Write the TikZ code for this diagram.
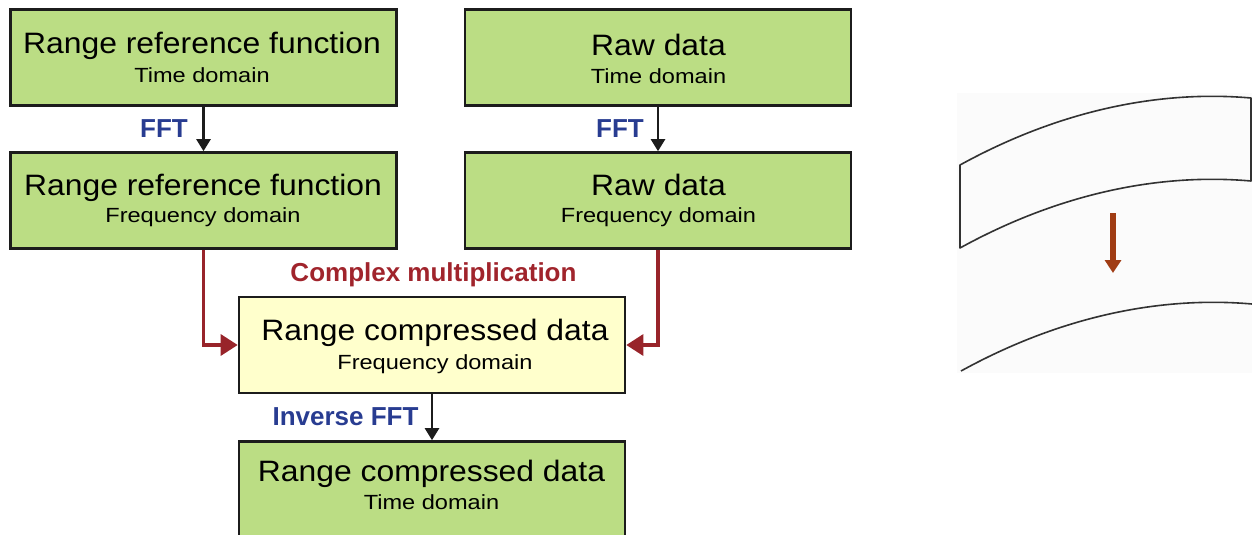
\documentclass[tikz,border=0pt]{standalone}
\usepackage{fontspec}
\usetikzlibrary{arrows.meta}
\newfontfamily\mainfnt[FakeStretch=1.08]{Liberation Sans}
\newfontfamily\subfnt[FakeStretch=1.15]{Liberation Sans}
\newfontfamily\lblfnt{Liberation Sans}
\definecolor{boxgreen}{RGB}{187,221,132}
\definecolor{boxyellow}{RGB}{255,255,204}
\definecolor{bordc}{RGB}{28,28,28}
\definecolor{lblblue}{RGB}{40,60,145}
\definecolor{lblred}{RGB}{160,36,44}
\definecolor{arrred}{RGB}{152,36,42}
\definecolor{arrbrown}{RGB}{160,60,20}
\definecolor{curvec}{RGB}{50,50,50}
\definecolor{panelbg}{RGB}{251,251,251}
\tikzset{
  flowbox/.style={draw=bordc, line width=2.6pt, minimum width=386pt, minimum height=96pt, inner sep=0pt, fill=boxgreen},
  maintxt/.style={anchor=base, inner sep=0pt, font=\mainfnt\fontsize{29.5}{32}\selectfont, text=black},
  subtxt/.style={anchor=base, inner sep=0pt, font=\subfnt\fontsize{20.5}{24}\selectfont, text=black},
  lbltxt/.style={anchor=base, inner sep=0pt, font=\lblfnt\bfseries\fontsize{26}{30}\selectfont},
  blkarr/.style={draw=bordc, line width=2.4pt, -{Triangle[length=12pt,width=14pt]}},
  redarr/.style={draw=arrred, line width=3.2pt, -{Triangle[length=17pt,width=21pt]}},
  brownarr/.style={draw=arrbrown, line width=6pt, -{Triangle[length=13pt,width=16pt]}},
  curveline/.style={draw=curvec, line width=1.6pt, line join=round}
}
\begin{document}
\begin{tikzpicture}[x=1pt,y=-1pt]
\useasboundingbox (0,0) rectangle (1252,535);
% boxes
\node[flowbox] (A) at (203.5,57.5) {};
\node[flowbox] (B) at (203.5,200.5) {};
\node[flowbox] (C) at (658,57.5) {};
\node[flowbox] (D) at (658,200.5) {};
\node[flowbox, fill=boxyellow] (E) at (432,345) {};
\node[flowbox] (F) at (432,489.5) {};
% texts
\node[maintxt] (At) at (202,54) {Range reference function};
\node[subtxt]  (As) at (202,82) {Time domain};
\node[maintxt] (Bt) at (203,195) {Range reference function};
\node[subtxt]  (Bs) at (203,222.5) {Frequency domain};
\node[maintxt] (Ct) at (658.5,56) {Raw data};
\node[subtxt]  (Cs) at (658.5,84) {Time domain};
\node[maintxt] (Dt) at (658.5,195) {Raw data};
\node[subtxt]  (Ds) at (658.5,222.5) {Frequency domain};
\node[maintxt] (Et) at (435,340) {Range compressed data};
\node[subtxt]  (Es) at (435,369) {Frequency domain};
\node[maintxt] (Ft) at (431.5,481) {Range compressed data};
\node[subtxt]  (Fs) at (431.5,509) {Time domain};
% labels
\node[lbltxt, text=lblblue] (L1) at (164,137) {FFT};
\node[lbltxt, text=lblblue] (L2) at (620,137) {FFT};
\node[lbltxt, text=lblred]  (L3) at (433.5,281.5) {Complex multiplication};
\node[lbltxt, text=lblblue] (L4) at (345.5,425) {Inverse FFT};
% connectors
\draw[blkarr] (A.south) -- (B.north);
\draw[blkarr] (C.south) -- (D.north);
\draw[blkarr] (E.south) -- (F.north);
\draw[redarr] (B.south) |- (E.west);
\draw[redarr] (D.south) |- (E.east);
% right panel
\fill[panelbg] (957,93) rectangle (1252,373);
\draw[curveline] (960,165) .. controls (1060,110) and (1160,90) .. (1251,98) -- (1251,181) .. controls (1160,173) and (1060,193) .. (960,248) -- cycle;
\draw[curveline] (961,371) .. controls (1061,316) and (1161,296) .. (1252,304);
\coordinate (brs) at (1113,213);
\coordinate (bre) at (1113,273);
\draw[brownarr] (brs) -- (bre);
\end{tikzpicture}
\end{document}
